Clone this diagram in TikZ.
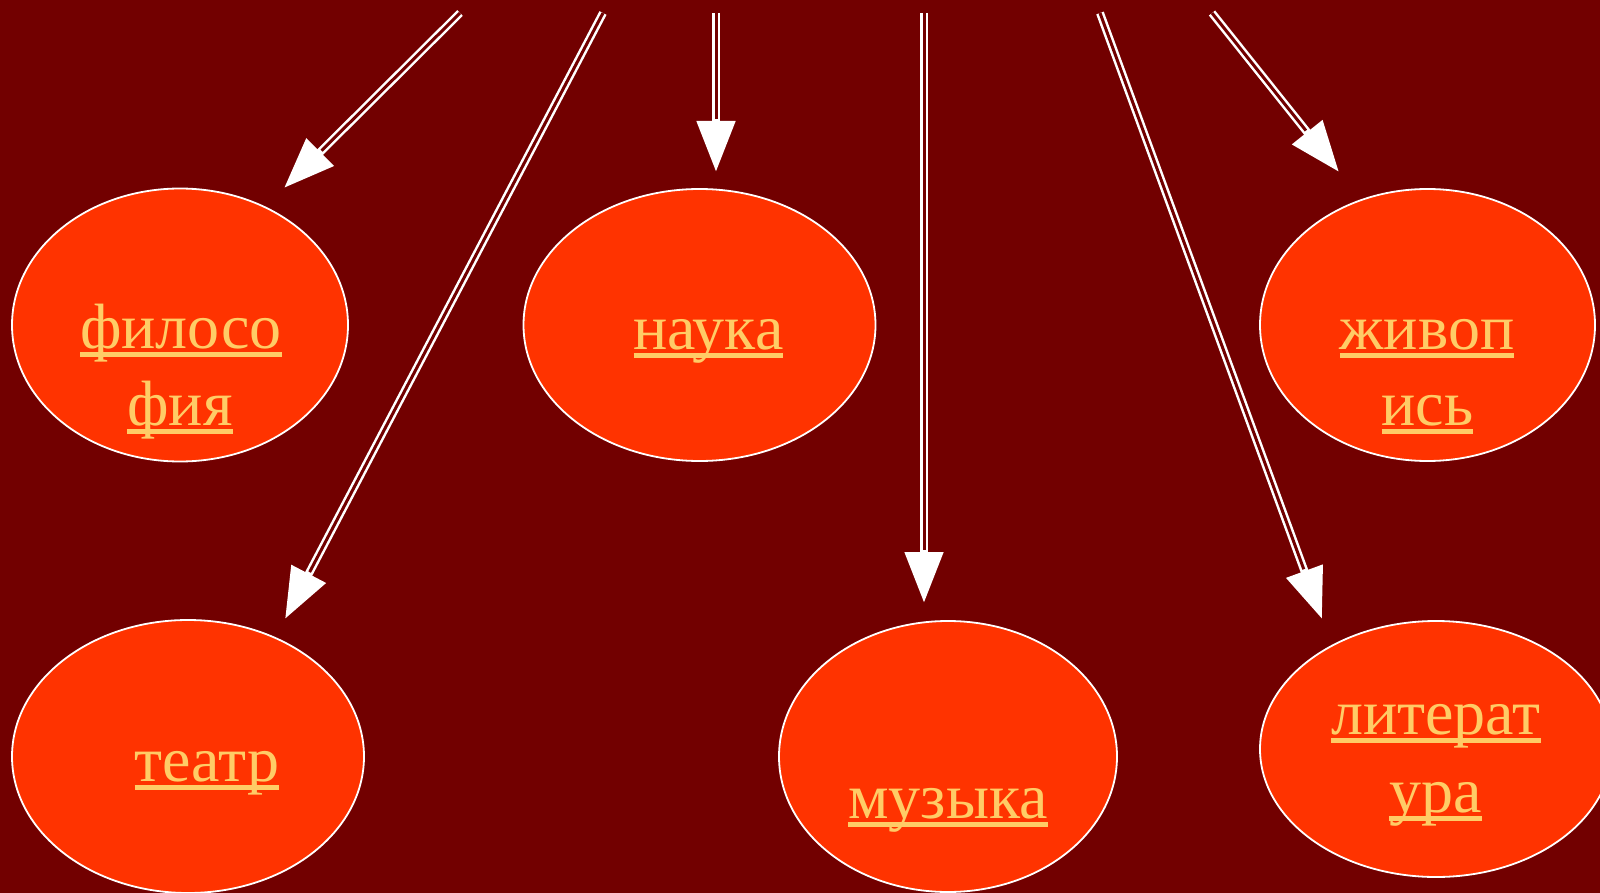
\documentclass[tikz,border=0pt]{standalone}
\usepackage{fontspec}
\setmainfont{Liberation Serif}
\usetikzlibrary{shapes.geometric,arrows.meta}
\definecolor{bgred}{HTML}{720000}
\definecolor{blob}{HTML}{FF3300}
\definecolor{txt}{HTML}{FFCC66}
\newcommand\ult[1]{\setbox0=\hbox{#1}\rlap{\copy0}\rule[-9pt]{\wd0}{5pt}}
\begin{document}
\begin{tikzpicture}[x=1pt,y=-1pt,
  blobnode/.style={ellipse, draw=white, line width=1.8pt, fill=blob, inner sep=0pt},
  labeltext/.style={anchor=base, text=txt, inner sep=0pt, font=\fontsize{64}{77}\selectfont},
  arrowline/.style={draw=white, line width=8pt, -{Triangle[length=51pt,width=37pt]}},
  arrowgap/.style={draw=bgred, line width=3pt, shorten >=53pt}]
\useasboundingbox[fill=bgred] (0,0) rectangle (1600,893);

% ellipses
\node[blobnode, minimum width=336pt, minimum height=273pt] (phil) at (180,325) {};
\node[blobnode, minimum width=352pt, minimum height=272pt] (sci) at (699.5,325) {};
\node[blobnode, minimum width=335pt, minimum height=272pt] (paint) at (1427.5,325) {};
\node[blobnode, minimum width=352pt, minimum height=273pt] (theat) at (188,756.5) {};
\node[blobnode, minimum width=338pt, minimum height=271pt] (music) at (948,756.5) {};
\node[blobnode, minimum width=352pt, minimum height=256pt] (lit) at (1436,749) {};

% labels
\node[labeltext] (phil1) at (181,348) {\ult{филосо}};
\node[labeltext] (phil2) at (180,425) {\ult{фия}};
\node[labeltext] (sci1) at (708.5,349) {\ult{наука}};
\node[labeltext] (paint1) at (1427,349) {\ult{живоп}};
\node[labeltext] (paint2) at (1427.5,425) {\ult{ись}};
\node[labeltext] (theat1) at (207,781) {\ult{театр}};
\node[labeltext] (music1) at (948,818) {\ult{музыка}};
\node[labeltext] (lit1) at (1436,734) {\ult{литерат}};
\node[labeltext] (lit2) at (1435.5,812) {\ult{ура}};

% arrow ends
\coordinate (s1) at (460,13);   \coordinate (e1) at (284,188);
\coordinate (s2) at (603,13);   \coordinate (e2) at (285,619);
\coordinate (s3) at (716,13);   \coordinate (e3) at (716,172);
\coordinate (s4) at (924,13);   \coordinate (e4) at (924,603);
\coordinate (s5) at (1100,13);  \coordinate (e5) at (1322,619);
\coordinate (s6) at (1212,13);  \coordinate (e6) at (1339,172);

\foreach \i in {1,...,6}{
  \draw[arrowline] (s\i) -- (e\i);
  \draw[arrowgap] (s\i) -- (e\i);
}
\end{tikzpicture}
\end{document}
